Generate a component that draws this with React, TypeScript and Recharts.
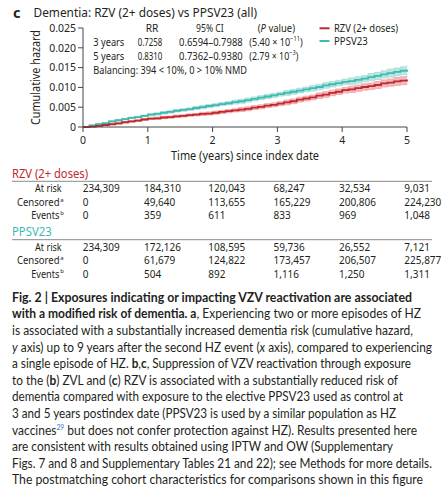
import React from 'react';
import {
  ComposedChart,
  Line,
  Area,
  XAxis,
  YAxis,
  Label,
} from 'recharts';

// years since index date
const TIME = [
  0, 0.1, 0.2, 0.3, 0.4, 0.5, 0.6, 0.7, 0.8, 0.9,
  1, 1.1, 1.2, 1.3, 1.4, 1.5, 1.6, 1.7, 1.8, 1.9,
  2, 2.1, 2.2, 2.3, 2.4, 2.5, 2.6, 2.7, 2.8, 2.9,
  3, 3.1, 3.2, 3.3, 3.4, 3.5, 3.6, 3.7, 3.8, 3.9,
  4, 4.1, 4.2, 4.3, 4.4, 4.5, 4.6, 4.7, 4.8, 4.9,
  5,
];

// cumulative hazard
const RZV_HAZARD = [
  0, 0.0001, 0.0003, 0.0005, 0.0007, 0.0009, 0.0012, 0.0014, 0.0016, 0.0019,
  0.0021, 0.0022, 0.0024, 0.0025, 0.0027, 0.0028, 0.003, 0.0031, 0.0033, 0.0034,
  0.0036, 0.0038, 0.004, 0.0042, 0.0044, 0.0046, 0.0049, 0.0051, 0.0054, 0.0056,
  0.0059, 0.0062, 0.0065, 0.0069, 0.0072, 0.0075, 0.0079, 0.0082, 0.0086, 0.0089,
  0.0093, 0.0095, 0.0098, 0.0101, 0.0103, 0.0106, 0.011, 0.0112, 0.0115, 0.0117,
  0.012,
];
const PPSV_HAZARD = [
  0, 0.0004, 0.0007, 0.001, 0.0014, 0.0017, 0.002, 0.0023, 0.0025, 0.0028,
  0.0031, 0.0033, 0.0036, 0.0038, 0.0041, 0.0043, 0.0045, 0.0048, 0.005, 0.0053,
  0.0055, 0.0058, 0.006, 0.0063, 0.0065, 0.0068, 0.0071, 0.0074, 0.0077, 0.008,
  0.0083, 0.0086, 0.0089, 0.0092, 0.0095, 0.0098, 0.0101, 0.0105, 0.0108, 0.0111,
  0.0114, 0.0116, 0.0119, 0.0122, 0.0126, 0.0129, 0.0133, 0.0136, 0.0139, 0.0142,
  0.0145,
];
// half width of the 95% band
const RZV_CI = [
  0, 0.0001, 0.0001, 0.0001, 0.0001, 0.0002, 0.0002, 0.0002, 0.0002, 0.0002,
  0.0002, 0.0003, 0.0003, 0.0003, 0.0003, 0.0003, 0.0003, 0.0003, 0.0004, 0.0004,
  0.0004, 0.0004, 0.0004, 0.0004, 0.0005, 0.0005, 0.0005, 0.0005, 0.0005, 0.0005,
  0.0005, 0.0006, 0.0006, 0.0006, 0.0006, 0.0006, 0.0007, 0.0007, 0.0007, 0.0007,
  0.0007, 0.0008, 0.0008, 0.0008, 0.0008, 0.0009, 0.0009, 0.0009, 0.001, 0.001,
  0.001,
];
const PPSV_CI = [
  0, 0.0001, 0.0001, 0.0001, 0.0002, 0.0002, 0.0002, 0.0002, 0.0002, 0.0002,
  0.0003, 0.0003, 0.0003, 0.0003, 0.0003, 0.0003, 0.0003, 0.0004, 0.0004, 0.0004,
  0.0004, 0.0004, 0.0004, 0.0005, 0.0005, 0.0005, 0.0005, 0.0005, 0.0005, 0.0005,
  0.0005, 0.0006, 0.0006, 0.0006, 0.0006, 0.0007, 0.0007, 0.0007, 0.0007, 0.0007,
  0.0007, 0.0008, 0.0008, 0.0008, 0.0009, 0.0009, 0.0009, 0.001, 0.001, 0.001,
  0.0011,
];

const X_TICKS = [0, 1, 2, 3, 4, 5];
const Y_TICKS = [0, 0.005, 0.01, 0.015, 0.02, 0.025];

// number-at-risk table
const RZV_AT_RISK = ['234,309', '184,310', '120,043', '68,247', '32,534', '9,031'];
const RZV_CENSORED = ['0', '49,640', '113,655', '165,229', '200,806', '224,230'];
const RZV_EVENTS = ['0', '359', '611', '833', '969', '1,048'];
const PPSV_AT_RISK = ['234,309', '172,126', '108,595', '59,736', '26,552', '7,121'];
const PPSV_CENSORED = ['0', '61,679', '124,822', '173,457', '206,507', '225,877'];
const PPSV_EVENTS = ['0', '504', '892', '1,116', '1,250', '1,311'];

const RED = '#c1272d';
const RED_BAND = '#eea3a6';
const TEAL = '#3fbab0';
const TEAL_BAND = '#a3ddd7';
const INK = '#231f20';
const FONT = '"Noto Sans", sans-serif';
const CAPTION_FONT = 'Lato, "Noto Sans", sans-serif';

const SERIES = [
  { label: 'RZV (2+ doses)', color: RED, width: 64 },
  { label: 'PPSV23', color: TEAL, width: 33.7 },
];

const COL_X = [82.7, 144, 208.3, 273.5, 339, 404.3];

const chartData = TIME.map((t, i) => ({
  t,
  rzv: RZV_HAZARD[i],
  ppsv: PPSV_HAZARD[i],
  rzvBand: [RZV_HAZARD[i] - RZV_CI[i], RZV_HAZARD[i] + RZV_CI[i]],
  ppsvBand: [PPSV_HAZARD[i] - PPSV_CI[i], PPSV_HAZARD[i] + PPSV_CI[i]],
}));

// text squeezed to the width measured on the reference
function Fit({ x, y, w, anchor, children }: { x: number; y: number; w: number; anchor?: 'start' | 'middle' | 'end'; children: React.ReactNode }) {
  return (
    <text x={x} y={y} textAnchor={anchor ?? 'start'} textLength={w} lengthAdjust="spacingAndGlyphs">
      {children}
    </text>
  );
}

const ROW_LABELS = [
  { label: 'At risk', end: 61.7, w: 26.7 },
  { label: 'Censored', end: 59.5, w: 42.6, sup: 'a' },
  { label: 'Events', end: 59.5, w: 28.3, sup: 'b' },
];

function RiskBlock({ top, title, color, titleWidth, values }: {
  top: number;
  title: string;
  color: string;
  titleWidth: number;
  values: string[][];
}) {
  return (
    <g>
      <text x={12} y={top + 4.6} fontSize={13} fill={color} textLength={titleWidth} lengthAdjust="spacingAndGlyphs">
        {title}
      </text>
      <line x1={12} x2={432} y1={top + 8} y2={top + 8} stroke="#8a8a8a" strokeWidth={1} />
      {ROW_LABELS.map((row, ri) => {
        const cy = top + 15.2 + ri * 13.5;
        return (
          <g key={row.label} fontSize={10} fill={INK}>
            <Fit x={row.end} y={cy + 3.6} w={row.w} anchor="end">{row.label}</Fit>
            {row.sup && (
              <text x={row.end + 0.8} y={cy - 0.5} fontSize={6}>
                {row.sup}
              </text>
            )}
            {values[ri].map((v, ci) => (
              <text key={ci} x={COL_X[ci]} y={cy + 3.6}>
                {v}
              </text>
            ))}
          </g>
        );
      })}
    </g>
  );
}

const CAPTION_TOP = 297;
const CAPTION_STEP = 16.6;

function CaptionLine({ i, width, children, bold }: { i: number; width: number; children: React.ReactNode; bold?: boolean }) {
  return (
    <text
      x={12}
      y={CAPTION_TOP + i * CAPTION_STEP + 4.8}
      fontSize={13.5}
      fill={INK}
      fontFamily={CAPTION_FONT}
      fontWeight={bold ? 700 : 400}
      textLength={width}
      lengthAdjust="spacingAndGlyphs"
    >
      {children}
    </text>
  );
}

export default function App() {
  return (
    <div style={{ position: 'absolute', left: 0, top: 0, width: 447, height: 500, background: '#fff', fontFamily: FONT }}>
      <div style={{ position: 'absolute', left: 0, top: 0 }}>
        <ComposedChart width={447} height={165} data={chartData} margin={{ top: 28, right: 40, left: 0, bottom: 3 }}>
          <XAxis
            dataKey="t"
            type="number"
            domain={[0, 5]}
            ticks={X_TICKS}
            interval={0}
            height={35}
            tickSize={5}
            tickMargin={5}
            stroke="#444"
            tick={{ fontSize: 10.5, fill: INK, fontFamily: FONT }}
          >
            <Label
              content={({ viewBox }: any) => (
                <text
                  x={viewBox.x + viewBox.width / 2}
                  y={viewBox.y + 33}
                  textAnchor="middle"
                  fontSize={12.5}
                  fill={INK}
                  fontFamily={FONT}
                  textLength={148}
                  lengthAdjust="spacingAndGlyphs"
                >
                  Time (years) since index date
                </text>
              )}
            />
          </XAxis>
          <YAxis
            type="number"
            domain={[0, 0.025]}
            ticks={Y_TICKS}
            interval={0}
            width={83}
            tickSize={5}
            tickMargin={2}
            stroke="#444"
            tick={{ fontSize: 10.5, fill: INK, fontFamily: FONT }}
            tickFormatter={(v: number) => (v === 0 ? '0' : v.toFixed(3))}
          >
            <Label
              content={({ viewBox }: any) => {
                const cx = 35;
                const cy = viewBox.y + viewBox.height / 2;
                return (
                  <text
                    x={cx}
                    y={cy}
                    transform={`rotate(-90 ${cx} ${cy})`}
                    textAnchor="middle"
                    dominantBaseline="central"
                    fontSize={12}
                    fill={INK}
                    fontFamily={FONT}
                    textLength={95}
                    lengthAdjust="spacingAndGlyphs"
                  >
                    Cumulative hazard
                  </text>
                );
              }}
            />
          </YAxis>
          <Area type="stepAfter" dataKey="ppsvBand" fill={TEAL_BAND} fillOpacity={0.75} stroke={TEAL_BAND} strokeWidth={0.8} isAnimationActive={false} />
          <Area type="stepAfter" dataKey="rzvBand" fill={RED_BAND} fillOpacity={0.75} stroke={RED_BAND} strokeWidth={0.8} isAnimationActive={false} />
          <Line type="stepAfter" dataKey="ppsv" name="PPSV23" stroke={TEAL} strokeWidth={1.8} dot={false} isAnimationActive={false} />
          <Line type="stepAfter" dataKey="rzv" name="RZV (2+ doses)" stroke={RED} strokeWidth={1.8} dot={false} isAnimationActive={false} />
        </ComposedChart>
      </div>

      <svg width={447} height={500} style={{ position: 'absolute', left: 0, top: 0, pointerEvents: 'none' }} fontFamily={FONT}>
        {/* panel title */}
        <text x={13} y={17.5} fontSize={14.5} fontWeight={700} fill={INK}>c</text>
        <text x={33.5} y={17} fontSize={13} fill={INK} textLength={223.5} lengthAdjust="spacingAndGlyphs">
          Dementia: RZV (2+ doses) vs PPSV23 (all)
        </text>

        {/* legend */}
        <g fontSize={10.8} fill={INK}>
          {SERIES.map((s, i) => (
            <g key={s.label}>
              <line x1={319.5} x2={329.5} y1={28.3 + i * 12.7} y2={28.3 + i * 12.7} stroke={s.color} strokeWidth={2} />
              <Fit x={334} y={32.2 + i * 12.7} w={s.width}>{s.label}</Fit>
            </g>
          ))}
        </g>

        {/* RR / CI annotation */}
        <g fontSize={11} fill={INK}>
          <Fit x={145.7} y={32.3} w={12.7}>RR</Fit>
          <Fit x={196} y={32.3} w={27.7}>95% CI</Fit>
          <Fit x={257.7} y={32.3} w={37.3}>(<tspan fontStyle="italic">P</tspan> value)</Fit>
          <Fit x={93.3} y={45.8} w={31}>3 years</Fit>
          <Fit x={137.7} y={45.8} w={24.6}>0.7258</Fit>
          <Fit x={179} y={45.8} w={63.7}>0.6594–0.7988</Fit>
          <Fit x={249.3} y={45.8} w={53.4}>
            (5.40 × 10<tspan fontSize={7} dy={-4.5}>−11</tspan><tspan dy={4.5}>)</tspan>
          </Fit>
          <Fit x={93.3} y={59.8} w={31}>5 years</Fit>
          <Fit x={137.7} y={59.8} w={24.6}>0.8310</Fit>
          <Fit x={179} y={59.8} w={63.7}>0.7362–0.9380</Fit>
          <Fit x={249.3} y={59.8} w={49}>
            (2.79 × 10<tspan fontSize={7} dy={-4.5}>−3</tspan><tspan dy={4.5}>)</tspan>
          </Fit>
          <Fit x={93.3} y={73.8} w={153.7}>Balancing: 394 &lt; 10%, 0 &gt; 10% NMD</Fit>
        </g>

        {/* number at risk */}
        <RiskBlock
          top={173.3}
          title="RZV (2+ doses)"
          color={RED}
          titleWidth={76}
          values={[RZV_AT_RISK, RZV_CENSORED, RZV_EVENTS]}
        />
        <RiskBlock
          top={231.7}
          title="PPSV23"
          color={TEAL}
          titleWidth={39.7}
          values={[PPSV_AT_RISK, PPSV_CENSORED, PPSV_EVENTS]}
        />

        {/* figure caption */}
        <CaptionLine i={0} width={400} bold>
          Fig. 2 | Exposures indicating or impacting VZV reactivation are associated
        </CaptionLine>
        <CaptionLine i={1} width={409}>
          <tspan fontWeight={700}>with a modified risk of dementia. a</tspan>, Experiencing two or more episodes of HZ
        </CaptionLine>
        <CaptionLine i={2} width={401}>
          is associated with a substantially increased dementia risk (cumulative hazard,
        </CaptionLine>
        <CaptionLine i={3} width={420}>
          <tspan fontStyle="italic">y</tspan> axis) up to 9 years after the second HZ event (<tspan fontStyle="italic">x</tspan> axis), compared to experiencing
        </CaptionLine>
        <CaptionLine i={4} width={399}>
          a single episode of HZ. <tspan fontWeight={700}>b</tspan>,<tspan fontWeight={700}>c</tspan>, Suppression of VZV reactivation through exposure
        </CaptionLine>
        <CaptionLine i={5} width={386}>
          to the (<tspan fontWeight={700}>b</tspan>) ZVL and (<tspan fontWeight={700}>c</tspan>) RZV is associated with a substantially reduced risk of
        </CaptionLine>
        <CaptionLine i={6} width={391}>
          dementia compared with exposure to the elective PPSV23 used as control at
        </CaptionLine>
        <CaptionLine i={7} width={384}>
          3 and 5 years postindex date (PPSV23 is used by a similar population as HZ
        </CaptionLine>
        <CaptionLine i={8} width={405}>
          vaccines<tspan fontSize={7.5} dy={-5} fill="#3a78c2">29</tspan><tspan dy={5}> but does not confer protection against HZ). Results presented here</tspan>
        </CaptionLine>
        <CaptionLine i={9} width={381}>
          are consistent with results obtained using IPTW and OW (Supplementary
        </CaptionLine>
        <CaptionLine i={10} width={420}>
          Figs. 7 and 8 and Supplementary Tables 21 and 22); see Methods for more details.
        </CaptionLine>
        <CaptionLine i={11} width={411}>
          The postmatching cohort characteristics for comparisons shown in this figure
        </CaptionLine>
      </svg>
    </div>
  );
}
